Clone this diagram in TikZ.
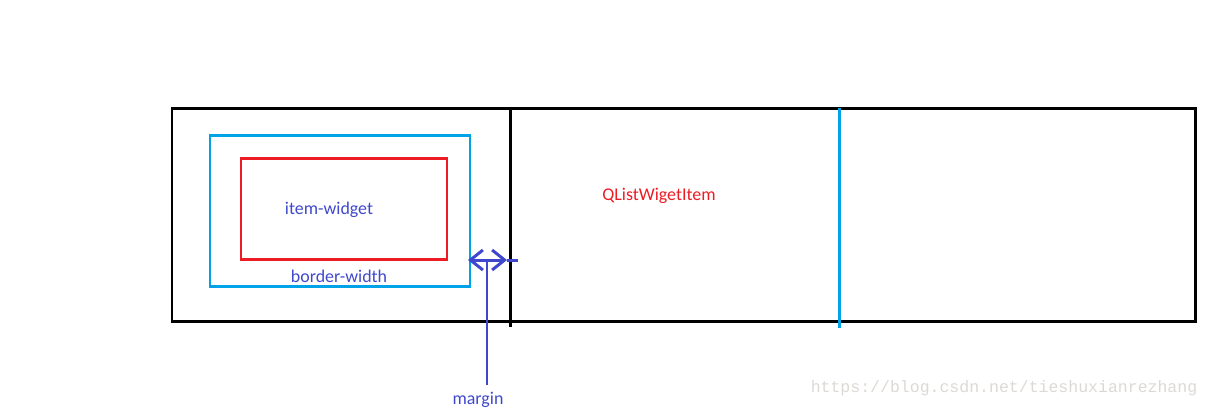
\documentclass[tikz,border=0pt]{standalone}
\usepackage{fontspec}
\setmainfont{Carlito}
\newfontfamily\urlfont{Liberation Mono}
\usepackage{xcolor}
\usetikzlibrary{arrows.meta}
\definecolor{paintcyan}{HTML}{00A2E8}
\definecolor{paintred}{HTML}{ED1C24}
\definecolor{paintindigo}{HTML}{3F48CC}
\definecolor{markgray}{HTML}{DCD8D4}

\begin{document}
\begin{tikzpicture}[
  x=0.02cm, y=-0.02cm,
  frame/.style={draw=black, line width=1.7pt},
  cyanline/.style={draw=paintcyan, line width=1.7pt},
  redbox/.style={draw=paintred, line width=1.7pt},
  lbl/.style={font=\fontsize{10.2}{12}\selectfont, inner sep=1pt},
  marg/.style={draw=paintindigo, line width=1.7pt},
  barbs/.style={{Straight Barb[length=2.5mm, width=4mm]}-{Straight Barb[length=2.5mm, width=4mm]}}
]
\useasboundingbox (0,0) rectangle (1210,410);

% list row and item
\draw[frame] (172,108) rectangle (1195,321);
\draw[frame] (510,108) -- (510,327);
\draw[cyanline] (839,108) -- (839,328);
\draw[cyanline] (210,135) rectangle (470,286);
\draw[redbox] (241,158) rectangle (447,259);

\node[lbl, text=paintindigo] (widget) at (329,210) {item-widget};
\node[lbl, text=paintindigo] (border) at (339,276) {border-width};
\node[lbl, text=paintred]    (item)   at (659,196) {QListWigetItem};
\node[lbl, text=paintindigo] (margin) at (478,400) {margin};

% margin arrow
\coordinate (ml)  at (468,260);
\coordinate (mrt) at (507,260);
\coordinate (mr)  at (518,260);
\coordinate (mc)  at (487,260);
\draw[marg, barbs] (ml) -- (mrt);
\draw[marg] (mrt) -- (mr);
\draw[marg] (mc) -- (mc |- 0,385);

\node[font=\urlfont\fontsize{9.4}{11}\selectfont, text=markgray, inner sep=0pt] (url) at (1004,388) {https://blog.csdn.net/tieshuxianrezhang};
\end{tikzpicture}
\end{document}
